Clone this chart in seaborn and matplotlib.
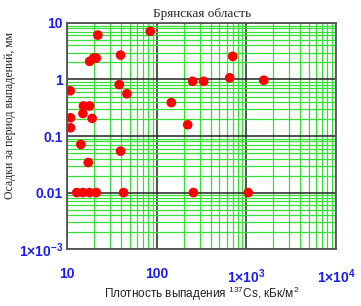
import matplotlib
matplotlib.use("Agg")
import matplotlib.pyplot as plt
import seaborn as sns
import pandas as pd
from matplotlib.ticker import FixedLocator, FixedFormatter, LogLocator, NullFormatter

# points: 137Cs density (kBq/m2) vs rain (mm)
cs_density = [10.8, 10.9, 10.9, 14.2, 15.0, 15.2, 17.8, 19.0, 17.2,
              17.8, 19.7, 21.1, 22.0, 39.4, 38.1, 46.4, 84.5, 39.4,
              12.8, 15.0, 17.8, 21.1, 42.6, 256, 1045,
              145, 221, 251, 333, 650, 703, 1560]
rain_mm = [0.63, 0.21, 0.14, 0.071, 0.25, 0.34, 0.34, 0.205, 0.034,
           2.09, 2.39, 2.39, 6.1, 2.7, 0.81, 0.56, 7.1, 0.054,
           0.01, 0.01, 0.01, 0.01, 0.01, 0.01, 0.01,
           0.39, 0.158, 0.93, 0.93, 1.07, 2.56, 0.97]

x_ticks = [10, 100, 1000, 10000]
x_labels = ["10", "100", r"$\mathbf{1{\times}10^{3}}$", r"$\mathbf{1{\times}10^{4}}$"]
y_ticks = [0.001, 0.01, 0.1, 1, 10]
y_labels = [r"$\mathbf{1{\times}10^{-3}}$", "0.01", "0.1", "1", "10"]

df = pd.DataFrame({"x": cs_density, "y": rain_mm})

sns.set_style("white")
plt.rcParams["mathtext.fontset"] = "custom"
plt.rcParams["mathtext.rm"] = "Liberation Sans"
plt.rcParams["mathtext.bf"] = "Liberation Sans:bold"
plt.rcParams["mathtext.it"] = "Liberation Sans"

fig = plt.figure(figsize=(3.61, 3.06), dpi=100)
ax = fig.add_axes([0.186, 0.186, 0.745, 0.739])

ax.set_xscale("log")
ax.set_yscale("log")
ax.set_xlim(10, 10000)
ax.set_ylim(0.001, 10)

# grid: green minor, black major
ax.xaxis.set_minor_locator(LogLocator(base=10, subs=range(2, 10)))
ax.yaxis.set_minor_locator(LogLocator(base=10, subs=range(2, 10)))
ax.xaxis.set_minor_formatter(NullFormatter())
ax.yaxis.set_minor_formatter(NullFormatter())
ax.grid(which="minor", color="#33e033", lw=0.9, zorder=0)
ax.grid(which="major", color="#222222", lw=1.1, zorder=1)
ax.set_axisbelow(True)

sns.scatterplot(data=df, x="x", y="y", color="#ff0000", edgecolor="none",
                s=48, ax=ax, zorder=3, legend=False)

ax.xaxis.set_major_locator(FixedLocator(x_ticks))
ax.xaxis.set_major_formatter(FixedFormatter(x_labels))
ax.yaxis.set_major_locator(FixedLocator(y_ticks))
ax.yaxis.set_major_formatter(FixedFormatter(y_labels))
ax.tick_params(which="both", length=0)
ax.tick_params(axis="x", pad=13)
ax.tick_params(axis="y", pad=3)
for lab in ax.get_xticklabels() + ax.get_yticklabels():
    lab.set_fontfamily("Liberation Sans")
    lab.set_fontweight("bold")
    lab.set_fontsize(10)
    lab.set_color("#1a1aff")

for sp in ax.spines.values():
    sp.set_color("#555555")
    sp.set_linewidth(1.3)

ax.set_title("Брянская область", family="Liberation Serif", fontsize=9.5, pad=4)
ax.set_ylabel("Осадки за период выпадений, мм", family="Liberation Serif",
              fontsize=8.5)
ax.yaxis.set_label_coords(-0.19, 0.59)
ax.set_xlabel(r"Плотность выпадения $^{137}$Cs, кБк/м$^{2}$",
              family="Liberation Sans", fontsize=8.5, color="#222222")
ax.xaxis.set_label_coords(0.5, -0.16)

fig.savefig("out.png", dpi=100)
